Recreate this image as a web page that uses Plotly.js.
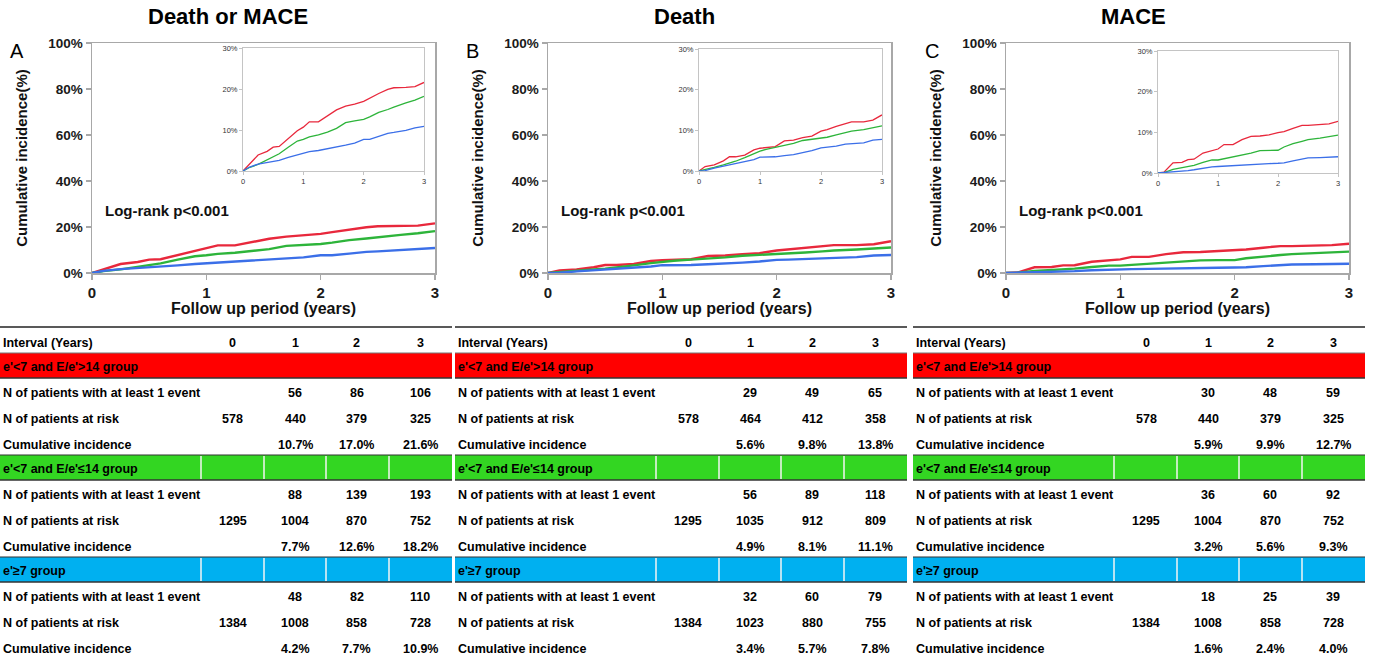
<!DOCTYPE html>
<html><head><meta charset="utf-8">
<script src="https://cdn.plot.ly/plotly-3.0.1.min.js"></script>
<style>html,body{margin:0;padding:0;background:#fff;}#chart{width:1375px;height:659px;}</style>
</head><body><div id="chart"></div>
<script>
// ---------- DATA ----------
const panelTitles = ['Death or MACE', 'Death', 'MACE'];
const panelLetters = ['A', 'B', 'C'];
const logRankText = 'Log-rank p<0.001';
const groupNames = ["e'<7 and E/e'>14 group", "e'<7 and E/e'≤14 group", "e'≥7 group"];
const rowLabels = ['N of patients with at least 1 event', 'N of patients at risk', 'Cumulative incidence'];
const intervalHeader = 'Interval (Years)';
const intervalLabels = ['0', '1', '2', '3'];
const insetYTicks = [0, 10, 20, 30];
const insetYTickText = ['0%', '10%', '20%', '30%'];

// Kaplan-Meier cumulative incidence (%)
const timeGrid = [0, 0.1, 0.25, 0.4, 0.5, 0.6, 0.75, 0.9, 1.0, 1.1, 1.25, 1.4, 1.55, 1.7, 1.85, 2.0, 2.1, 2.25, 2.4, 2.5, 2.7, 2.85, 3.0];
const redA   = [0, 1.5, 3.9, 4.8, 5.8, 6.0, 7.8, 9.8, 10.7, 12.0, 12.0, 13.4, 14.9, 15.8, 16.3, 17.0, 17.8, 18.9, 19.9, 20.3, 20.4, 20.6, 21.6];
const greenA = [0, 0.8, 1.6, 2.7, 3.3, 4.2, 5.8, 7.3, 7.7, 8.3, 8.8, 9.5, 10.4, 11.8, 12.2, 12.6, 13.2, 14.3, 15.0, 15.6, 16.6, 17.3, 18.2];
const blueA  = [0, 0.9, 1.7, 2.1, 2.4, 2.6, 3.3, 3.9, 4.2, 4.7, 5.0, 5.4, 5.8, 6.3, 6.8, 7.7, 7.7, 8.4, 9.2, 9.4, 9.9, 10.5, 10.9];
const redB   = [0, 1.1, 1.5, 2.5, 3.5, 3.5, 3.9, 5.2, 5.6, 5.8, 6.0, 7.4, 7.6, 8.2, 8.6, 9.8, 10.2, 11.0, 11.6, 12.1, 12.1, 12.5, 13.8];
const greenB = [0, 0.3, 0.9, 1.5, 1.9, 2.4, 3.3, 4.3, 4.9, 5.3, 5.8, 6.2, 6.8, 7.5, 7.8, 8.1, 8.3, 8.9, 9.4, 9.8, 10.2, 10.6, 11.1];
const blueB  = [0, 0.1, 0.7, 1.2, 1.5, 1.7, 2.2, 2.8, 3.4, 3.4, 3.5, 3.8, 4.0, 4.5, 5.0, 5.7, 5.8, 6.1, 6.6, 6.7, 6.9, 7.6, 7.8];
const redC   = [0, 0.2, 2.5, 2.6, 3.3, 3.4, 4.9, 5.6, 5.9, 7.0, 7.0, 8.2, 9.0, 9.1, 9.4, 9.9, 10.2, 11.0, 11.7, 11.7, 11.9, 12.1, 12.7];
const greenC = [0, 0.1, 0.9, 1.3, 1.6, 1.9, 2.6, 3.2, 3.2, 3.5, 4.0, 4.3, 4.9, 5.5, 5.6, 5.6, 6.4, 7.2, 7.8, 8.2, 8.6, 9.0, 9.3];
const blueC  = [0, 0.1, 0.3, 0.5, 0.6, 0.8, 1.2, 1.5, 1.6, 1.7, 1.8, 2.0, 2.1, 2.2, 2.3, 2.4, 2.5, 3.0, 3.5, 3.7, 3.8, 3.9, 4.0];

// Risk tables (per group: red, green, blue)
const eventsA = [[56, 86, 106], [88, 139, 193], [48, 82, 110]];
const atRiskA = [[578, 440, 379, 325], [1295, 1004, 870, 752], [1384, 1008, 858, 728]];
const incA    = [[10.7, 17.0, 21.6], [7.7, 12.6, 18.2], [4.2, 7.7, 10.9]];
const eventsB = [[29, 49, 65], [56, 89, 118], [32, 60, 79]];
const atRiskB = [[578, 464, 412, 358], [1295, 1035, 912, 809], [1384, 1023, 880, 755]];
const incB    = [[5.6, 9.8, 13.8], [4.9, 8.1, 11.1], [3.4, 5.7, 7.8]];
const eventsC = [[30, 48, 59], [36, 60, 92], [18, 25, 39]];
const atRiskC = [[578, 440, 379, 325], [1295, 1004, 870, 752], [1384, 1008, 858, 728]];
const incC    = [[5.9, 9.9, 12.7], [3.2, 5.6, 9.3], [1.6, 2.4, 4.0]];

// ---------- STYLE / LAYOUT ----------
const W = 1375, H = 659;
const FONT = 'Liberation Sans, Arial, sans-serif';
const lineColors = ['#E8283C', '#2DB43A', '#3B6FE8'];
const bandColors = ['#FF0000', '#33D622', '#00B0F0'];
const X = p => p / W;
const Y = p => 1 - p / H;
const esc = s => String(s).replace(/&/g, '&amp;').replace(/</g, '&lt;').replace(/>/g, '&gt;');

const curves = [[redA, greenA, blueA], [redB, greenB, blueB], [redC, greenC, blueC]];
const tables = [
  {events: eventsA, atRisk: atRiskA, inc: incA},
  {events: eventsB, atRisk: atRiskB, inc: incB},
  {events: eventsC, atRisk: atRiskC, inc: incC}
];

const mainX = [[92, 435], [548, 891], [1006, 1349]];
const mainY = [43, 273];
const insetX = [[243, 424], [699, 882], [1158, 1338]];
const insetY = [[48, 171], [49, 171], [51, 173]];
const titleX = [228, 684, 1133];
const letterX = [17, 473, 932];
const logRankX = [103, 559, 1017];
const tableLeft = [0, 455, 913];
const tableW = 452;
const colRel = [233, 295, 357, 420];
const sepRel = [201, 264, 326, 389];
const bandTop = [353, 455, 557];

const traces = [];
const layout = {
  width: W, height: H,
  margin: {l: 0, r: 0, t: 0, b: 0},
  paper_bgcolor: '#fff', plot_bgcolor: 'rgba(0,0,0,0)',
  showlegend: false,
  font: {family: FONT, color: '#111'},
  shapes: [], annotations: []
};

function axName(i) { return i === 1 ? '' : String(i); }

for (let p = 0; p < 3; p++) {
  const mi = 2 * p + 1, ii = 2 * p + 2;
  layout['xaxis' + axName(mi)] = {
    domain: [X(mainX[p][0]), X(mainX[p][1])], anchor: 'y' + axName(mi), range: [0, 3],
    showline: true, linecolor: '#A8A8A8', linewidth: 1.5, mirror: true,
    ticks: 'outside', ticklen: 5, tickcolor: '#A8A8A8', tickwidth: 1.5,
    tickvals: [0, 1, 2, 3], showgrid: false, zeroline: false,
    tickfont: {family: FONT, size: 15, color: '#1a1a1a', weight: 'bold'},
    title: {text: 'Follow up period (years)', font: {family: FONT, size: 16, color: '#111', weight: 'bold'}, standoff: 1}
  };
  layout['yaxis' + axName(mi)] = {
    domain: [Y(mainY[1]), Y(mainY[0])], anchor: 'x' + axName(mi), range: [0, 100],
    showline: true, linecolor: '#A8A8A8', linewidth: 1.5, mirror: true,
    ticks: 'outside', ticklen: 5, tickcolor: '#A8A8A8', tickwidth: 1.5,
    dtick: 20, ticksuffix: '%', showgrid: false, zeroline: false,
    tickfont: {family: FONT, size: 13.5, color: '#1a1a1a', weight: 'bold'},
    title: {text: 'Cumulative incidence(%)', font: {family: FONT, size: 15, color: '#111', weight: 'bold'}, standoff: 17}
  };
  layout['xaxis' + axName(ii)] = {
    domain: [X(insetX[p][0]), X(insetX[p][1])], anchor: 'y' + axName(ii), range: [0, 3],
    showline: true, linecolor: '#C4C4C4', linewidth: 1, mirror: true,
    ticks: 'outside', ticklen: 3, tickcolor: '#C4C4C4',
    tickvals: [0, 1, 2, 3], showgrid: false, zeroline: false,
    tickfont: {family: FONT, size: 7.5, color: '#333'}
  };
  layout['yaxis' + axName(ii)] = {
    domain: [Y(insetY[p][1]), Y(insetY[p][0])], anchor: 'x' + axName(ii), range: [0, 30],
    showline: true, linecolor: '#C4C4C4', linewidth: 1, mirror: true,
    ticks: 'outside', ticklen: 3, tickcolor: '#C4C4C4',
    tickmode: 'array', tickvals: insetYTicks, ticktext: insetYTickText, showgrid: false, zeroline: false,
    tickfont: {family: FONT, size: 7.5, color: '#333'}
  };

  for (let g = 0; g < 3; g++) {
    traces.push({
      type: 'scatter', mode: 'lines', x: timeGrid, y: curves[p][g],
      xaxis: 'x' + axName(mi), yaxis: 'y' + axName(mi),
      line: {color: lineColors[g], width: 2.4}, hoverinfo: 'skip'
    });
    traces.push({
      type: 'scatter', mode: 'lines', x: timeGrid, y: curves[p][g],
      xaxis: 'x' + axName(ii), yaxis: 'y' + axName(ii),
      line: {color: lineColors[g], width: 1.3}, hoverinfo: 'skip'
    });
  }

  layout.annotations.push({
    xref: 'paper', yref: 'paper', x: X(titleX[p]), y: Y(17), xanchor: 'center', yanchor: 'middle',
    text: '<b>' + esc(panelTitles[p]) + '</b>', showarrow: false, font: {family: FONT, size: 22, color: '#000'}
  });
  layout.annotations.push({
    xref: 'paper', yref: 'paper', x: X(letterX[p]), y: Y(51), xanchor: 'center', yanchor: 'middle',
    text: esc(panelLetters[p]), showarrow: false, font: {family: FONT, size: 20, color: '#000'}
  });
  layout.annotations.push({
    xref: 'paper', yref: 'paper', x: X(logRankX[p]), y: Y(211), xanchor: 'left', yanchor: 'middle',
    text: '<b>' + esc(logRankText) + '</b>', showarrow: false, font: {family: FONT, size: 15, color: '#111'}
  });

  const L = tableLeft[p];
  layout.shapes.push({type: 'line', xref: 'paper', yref: 'paper', x0: X(L), x1: X(L + tableW), y0: Y(327), y1: Y(327),
    line: {color: '#222', width: 1.5}});
  const txt = (x, y, s, anchor) => layout.annotations.push({
    xref: 'paper', yref: 'paper', x: X(x), y: Y(y), xanchor: anchor, yanchor: 'middle',
    text: '<b>' + esc(s) + '</b>', showarrow: false, font: {family: FONT, size: 12.5, color: '#000'}
  });
  txt(L + 1, 343, intervalHeader, 'left');
  intervalLabels.forEach((s, c) => txt(L + colRel[c], 343, s, 'center'));

  const T = tables[p];
  for (let g = 0; g < 3; g++) {
    const bt = bandTop[g];
    layout.shapes.push({type: 'rect', xref: 'paper', yref: 'paper', x0: X(L), x1: X(L + tableW), y0: Y(bt + 25), y1: Y(bt),
      fillcolor: bandColors[g], line: {width: 0}, layer: 'below'});
    layout.shapes.push({type: 'line', xref: 'paper', yref: 'paper', x0: X(L), x1: X(L + tableW), y0: Y(bt), y1: Y(bt),
      line: {color: g === 0 ? '#777' : '#333', width: 1.2}});
    layout.shapes.push({type: 'line', xref: 'paper', yref: 'paper', x0: X(L), x1: X(L + tableW), y0: Y(bt + 25), y1: Y(bt + 25),
      line: {color: '#333', width: 1.5}});
    if (g > 0) {
      sepRel.forEach(s => layout.shapes.push({type: 'line', xref: 'paper', yref: 'paper',
        x0: X(L + s), x1: X(L + s), y0: Y(bt + 24), y1: Y(bt + 1), line: {color: '#f4f4f4', width: 1.5}}));
    }
    txt(L + 1, bt + 14, groupNames[g], 'left');
    const rows = [bt + 39.5, bt + 65.5, bt + 91.5];
    rowLabels.forEach((s, r) => txt(L + 1, rows[r], s, 'left'));
    T.events[g].forEach((v, c) => txt(L + colRel[c + 1], rows[0], v, 'center'));
    T.atRisk[g].forEach((v, c) => txt(L + colRel[c], rows[1], v, 'center'));
    T.inc[g].forEach((v, c) => txt(L + colRel[c + 1], rows[2], v.toFixed(1) + '%', 'center'));
  }
}

Plotly.newPlot('chart', traces, layout, {staticPlot: true, displayModeBar: false});
</script>
</body></html>
